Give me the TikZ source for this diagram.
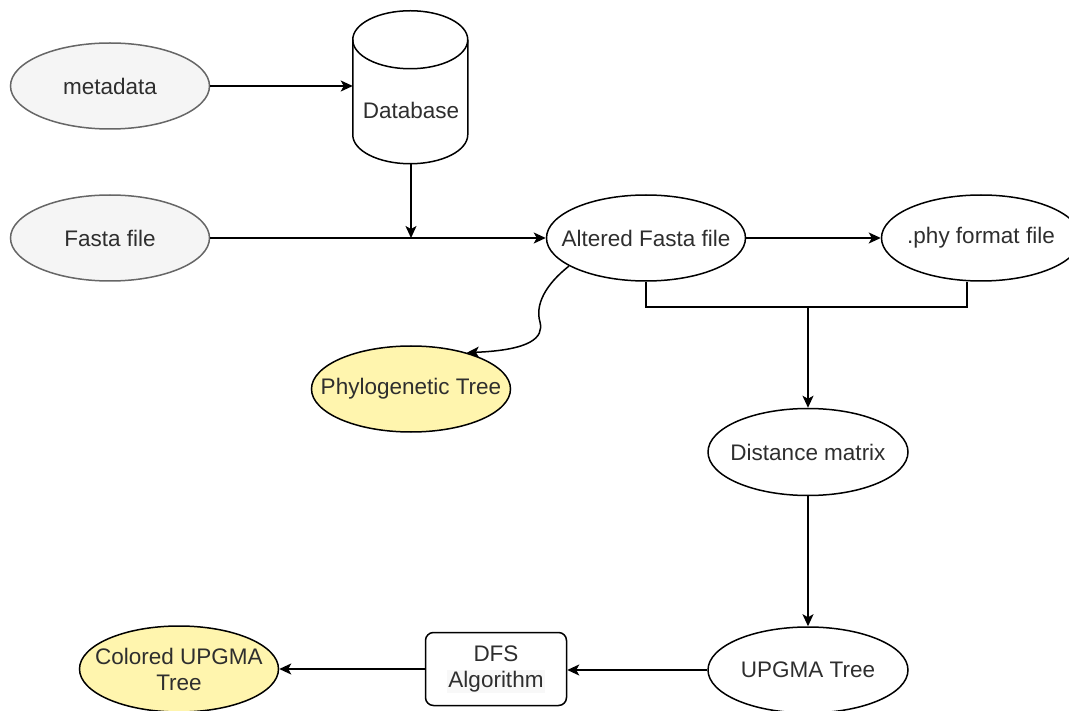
\documentclass[tikz,border=0pt]{standalone}
\usepackage{fontspec}
\setmainfont{Liberation Sans}
\usetikzlibrary{arrows.meta,shapes.geometric}
\definecolor{greyfill}{HTML}{F5F5F5}
\definecolor{greyline}{HTML}{666666}
\definecolor{paleyellow}{HTML}{FFF5AE}
\definecolor{algbg}{HTML}{F8F8F8}

\begin{document}
\begin{tikzpicture}[x=1pt, y=-1pt, line width=1.5pt,
    font=\fontsize{22.5}{26}\selectfont, text=black!82,
    blob/.style={ellipse, draw, minimum width=199pt, minimum height=86pt,
      inner xsep=-50pt, inner ysep=-12pt, align=center},
    source/.style={blob, draw=greyline, fill=greyfill},
    result/.style={blob, fill=paleyellow},
    arr/.style={-{Stealth[length=12pt, width=11pt, inset=3pt]}}]
  \path[use as bounding box, clip] (0,0) rectangle (1069,711);

  \node[source] (meta) at (110,86) {metadata};
  \node[source] (fasta) at (110,238) {Fasta file};

  % the database drum
  \node[minimum width=115pt, minimum height=106pt, inner sep=0pt] (db) at (411,110) {Database};
  \draw (db.south west) ++(0,-29) -- ++(0,-95)
    arc[start angle=180, end angle=0, x radius=57.5pt, y radius=29pt] -- ++(0,95)
    arc[start angle=0, end angle=-180, x radius=57.5pt, y radius=29pt];
  \draw (db.south west) ++(0,-124) arc[start angle=180, end angle=360, x radius=57.5pt, y radius=29pt];

  \node[blob] (alt) at (646,238) {Altered Fasta file};
  \node[blob] (phy) at (981,238) {.phy format file};
  \node[result] (phylo) at (411,389) {Phylogenetic Tree};
  \node[blob, minimum width=200pt, minimum height=87pt] (dist) at (808,452) {Distance matrix};
  \node[blob, minimum width=200pt] (upgma) at (808,670) {UPGMA Tree};
  \node[draw, rounded corners=8pt, minimum width=141pt, minimum height=73pt, align=center]
    (dfs) at (496,669) {DFS\\{\fboxsep=1pt\colorbox{algbg}{Algorithm}}};
  \node[result] (colored) at (179,669) {Colored UPGMA\\Tree};

  \coordinate (join) at (411,238);
  \coordinate (split) at (808,307);

  \draw[arr] (meta.east) -- (meta.east -| db.west);
  \draw[arr] (db.south) -- (join);
  \draw[arr] (fasta) -- (alt);
  \draw[arr] (alt) -- (phy);
  \draw (alt.south) |- (split) -| ([xshift=-14pt, yshift=-0.5pt]phy.south);
  \draw[arr] (split) -- (dist);
  \draw[arr] (dist) -- (upgma);
  \draw[arr] (upgma.west) -- (upgma.west -| dfs.east);
  \draw[arr] (dfs) -- (colored);
  \draw[arr] (alt.200) .. controls (545,285) and (535,305) .. (540,322)
    .. controls (544,338) and (530,350) .. (phylo.33);
\end{tikzpicture}
\end{document}
